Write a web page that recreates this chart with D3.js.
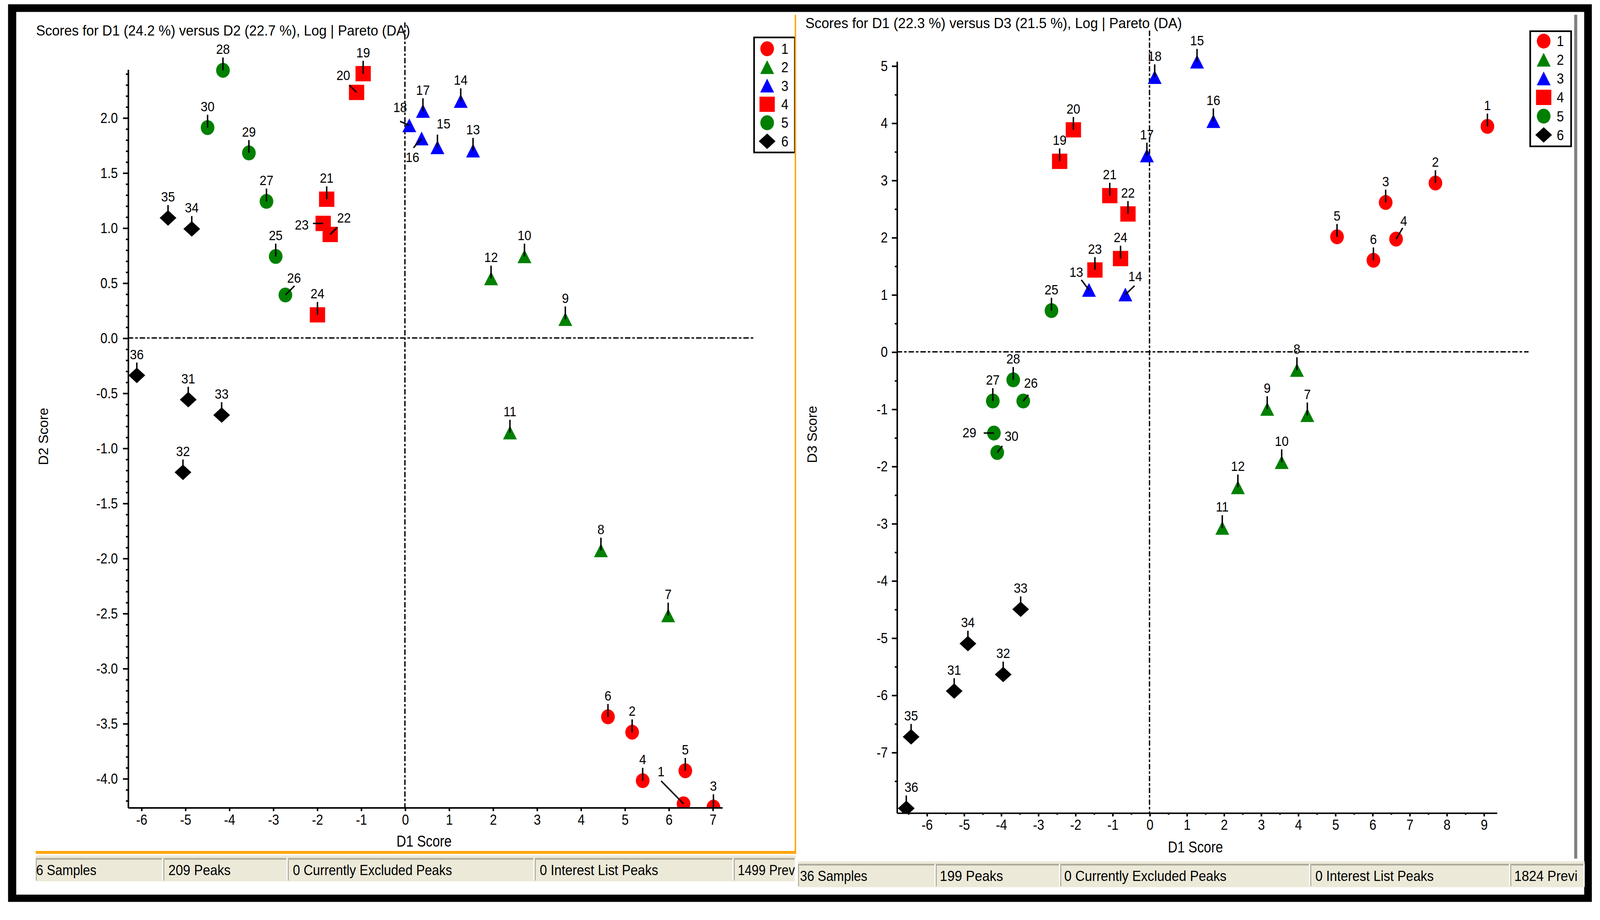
<!DOCTYPE html>
<html>
<head>
<meta charset="UTF-8">
<title>DA score plots</title>
<script src="https://d3js.org/d3.v7.min.js"></script>
<style>
  html, body { margin: 0; padding: 0; overflow: hidden; background: #fff; }
  svg { display: block; }
  text { font-family: "Liberation Sans", Arial, sans-serif; fill: #000; }
  .axis path, .axis line { stroke: #000; stroke-width: 1.5; }
  .axis text { font-size: 14.5px; }
  .zero { stroke: #000; stroke-width: 1.3; stroke-dasharray: 5.3 1.9 2.5 1.9; fill: none; }
  .leader { stroke: #000; stroke-width: 1.4; }
</style>
</head>
<body>
<div id="chart"></div>
<script>
// ---- data ----
const sampleIds = [1, 2, 3, 4, 5, 6, 7, 8, 9, 10, 11, 12, 13, 14, 15, 16, 17, 18,
                   19, 20, 21, 22, 23, 24, 25, 26, 27, 28, 29, 30, 31, 32, 33, 34, 35, 36];
const sampleGroup = [1, 1, 1, 1, 1, 1, 2, 2, 2, 2, 2, 2, 3, 3, 3, 3, 3, 3,
                     4, 4, 4, 4, 4, 4, 5, 5, 5, 5, 5, 5, 6, 6, 6, 6, 6, 6];

const groups = ["1", "2", "3", "4", "5", "6"];
const groupColors = ["#ff0000", "#008000", "#0000ff", "#ff0000", "#008000", "#000000"];
const groupShapes = ["circle", "triangle", "triangle", "square", "circle", "diamond"];

// left plot: D1 vs D2
const leftD1 = [6.34, 5.17, 7.02, 5.41, 6.38, 4.62, 5.99, 4.46, 3.65, 2.72, 2.39, 1.96,
                1.55, 1.27, 0.74, 0.38, 0.41, 0.10, -0.95, -1.10, -1.78, -1.70, -1.86, -1.99,
                -2.94, -2.72, -3.15, -4.14, -3.55, -4.49, -4.93, -5.05, -4.17, -4.85, -5.39, -6.10];
const leftD2 = [-4.23, -3.58, -4.26, -4.02, -3.93, -3.44, -2.52, -1.93, 0.17, 0.74, -0.86, 0.54,
                1.70, 2.15, 1.73, 1.81, 2.06, 1.93, 2.40, 2.23, 1.26, 0.94, 1.04, 0.21,
                0.74, 0.39, 1.24, 2.43, 1.68, 1.91, -0.56, -1.22, -0.70, 0.99, 1.09, -0.34];

// right plot: D1 vs D3
const rightD1 = [9.10, 7.70, 6.36, 6.64, 5.05, 6.03, 4.25, 3.97, 3.17, 3.56, 1.96, 2.38,
                 -1.63, -0.65, 1.28, 1.72, -0.07, 0.14, -2.42, -2.05, -1.07, -0.58, -1.47, -0.78,
                 -2.64, -3.40, -4.22, -3.67, -4.19, -4.10, -5.26, -3.94, -3.47, -4.89, -6.42, -6.55];
const rightD3 = [3.94, 2.95, 2.61, 1.97, 2.01, 1.60, -1.11, -0.32, -1.00, -1.93, -3.08, -2.37,
                 1.08, 1.00, 5.07, 4.03, 3.43, 4.80, 3.33, 3.88, 2.73, 2.41, 1.43, 1.63,
                 0.72, -0.86, -0.86, -0.49, -1.42, -1.76, -5.93, -5.64, -4.50, -5.10, -6.73, -7.98];

const leftXTicks = [-6, -5, -4, -3, -2, -1, 0, 1, 2, 3, 4, 5, 6, 7];
const leftYTicks = [2.0, 1.5, 1.0, 0.5, 0.0, -0.5, -1.0, -1.5, -2.0, -2.5, -3.0, -3.5, -4.0];
const rightXTicks = [-6, -5, -4, -3, -2, -1, 0, 1, 2, 3, 4, 5, 6, 7, 8, 9];
const rightYTicks = [5, 4, 3, 2, 1, 0, -1, -2, -3, -4, -5, -6, -7];

const leftTitle = "Scores for D1 (24.2 %) versus D2 (22.7 %), Log | Pareto (DA)";
const rightTitle = "Scores for D1 (22.3 %) versus D3 (21.5 %), Log | Pareto (DA)";
const xTitle = "D1 Score";
const leftYTitle = "D2 Score";
const rightYTitle = "D3 Score";

const leftStatus = ["36 Samples", "209 Peaks", "0 Currently Excluded Peaks", "0 Interest List Peaks", "1499 Prev"];
const rightStatus = ["36 Samples", "199 Peaks", "0 Currently Excluded Peaks", "0 Interest List Peaks", "1824 Previ"];

// label placement: [labelDx, labelDy(baseline), leaderDx, leaderDy]
const defaultShift = [0, -16, 0, -12.6];
const leftLabelShift = {
    1: [-22, -27, -22, -22.5], 15: [6, -18.5, 0, -12.6], 16: [-9, 23, -8, 9],
    18: [-9, -13, -9, -4], 20: [-13, -12, -7, -7], 22: [13.5, -11.7, 7, -7],
    23: [-21, 6, -10, 0], 26: [8.5, -12, 9, -9]
};
const rightLabelShift = {
    4: [7.5, -13, 6.5, -11], 13: [-12.4, -13, -7.5, -10], 14: [9.7, -13, 9, -8.7],
    26: [7.5, -13, 5, -6], 29: [-24, 4.3, -10, 0], 30: [14, -11.5, 5, -6.5],
    36: [5, -16, 0, -12.6]
};

// ---- drawing ----
const VW = 1568, VH = 890;
const pageW = window.innerWidth;
const svg = d3.select("#chart").append("svg")
    .attr("width", pageW).attr("height", pageW * 2356 / 4152)
    .attr("viewBox", `0 0 ${VW} ${VH}`)
    .attr("preserveAspectRatio", "none");

svg.append("rect").attr("width", VW).attr("height", VH).attr("fill", "#fff");
svg.append("rect").attr("x", 7.9).attr("y", 4.2).attr("width", 1552.1).attr("height", 880.2).attr("fill", "#000");
svg.append("rect").attr("x", 15.9).attr("y", 11.7).attr("width", 1536.6).attr("height", 865.6).attr("fill", "#fff");

function shapePath(shape) {
    if (shape === "circle") return "M-6.7,0A6.7,7.3 0 1,0 6.7,0A6.7,7.3 0 1,0 -6.7,0Z";
    if (shape === "triangle") return "M0,-6.9L6.8,6.6L-6.8,6.6Z";
    if (shape === "square") return "M-7.5,-7.5h15v15h-15Z";
    return "M0,-7.6L8.2,0L0,7.6L-8.2,0Z";
}

// narrow the glyphs horizontally, keeping each text anchored where it was
function squeeze(sel, k) {
    sel.each(function () {
        const t = d3.select(this);
        const x = +t.attr("x") || 0;
        t.attr("transform", `scale(${k},1)`).attr("x", x / k);
    });
}

function drawPanel(p, idx) {
    const g = svg.append("g");
    const x = d3.scaleLinear().domain(p.xDomain).range(p.xRange);
    const y = d3.scaleLinear().domain(p.yDomain).range(p.yRange);

    // title
    g.append("text").attr("x", p.titleX).attr("y", p.titleY)
        .attr("textLength", p.titleW).attr("lengthAdjust", "spacingAndGlyphs")
        .style("font-size", "14px").text(p.title);

    // zero lines
    g.append("line").attr("class", "zero")
        .attr("x1", x(0)).attr("x2", x(0)).attr("y1", p.vTop).attr("y2", p.yRange[0]);
    g.append("line").attr("class", "zero")
        .attr("x1", p.xRange[0]).attr("x2", p.hRight).attr("y1", y(0)).attr("y2", y(0));

    // markers, clipped at the x axis
    const clipId = "clip" + idx;
    svg.append("clipPath").attr("id", clipId).append("rect")
        .attr("x", 0).attr("y", 0).attr("width", VW).attr("height", p.yRange[0]);

    const pts = sampleIds.map((id, i) => ({ id: id, grp: sampleGroup[i] - 1, vx: p.xs[i], vy: p.ys[i] }));

    g.append("g").attr("clip-path", `url(#${clipId})`)
        .selectAll("path").data(pts).join("path")
        .attr("transform", d => `translate(${x(d.vx)},${y(d.vy)})`)
        .attr("d", d => shapePath(groupShapes[d.grp]))
        .attr("fill", d => groupColors[d.grp]);

    const shift = d => p.shifts[d.id] || defaultShift;
    g.append("g").selectAll("line").data(pts).join("line")
        .attr("class", "leader")
        .attr("x1", d => x(d.vx)).attr("y1", d => y(d.vy))
        .attr("x2", d => x(d.vx) + shift(d)[2]).attr("y2", d => y(d.vy) + shift(d)[3]);
    const labels = g.append("g").selectAll("text").data(pts).join("text")
        .attr("x", d => x(d.vx) + shift(d)[0]).attr("y", d => y(d.vy) + shift(d)[1])
        .attr("text-anchor", "middle").style("font-size", "13.5px")
        .text(d => d.id);
    squeeze(labels, 0.9);

    // axes
    g.append("g").attr("class", "axis")
        .attr("transform", `translate(0,${p.yRange[0]})`)
        .call(d3.axisBottom(x).tickValues(p.xTicks).tickSize(3.6).tickPadding(3)
            .tickSizeOuter(0).tickFormat(d => String(d)))
        .call(a => squeeze(a.selectAll("text"), 0.85));
    if (p.xMinor) {
        g.append("g").attr("class", "axis")
            .attr("transform", `translate(0,${p.yRange[0]})`)
            .call(d3.axisBottom(x).tickValues(p.xMinor).tickSize(2).tickFormat(""))
            .call(a => a.select(".domain").remove());
    }
    g.append("g").attr("class", "axis")
        .attr("transform", `translate(${p.xRange[0]},0)`)
        .call(d3.axisLeft(y).tickValues(p.yTicks).tickSize(4.8).tickPadding(p.yPad)
            .tickSizeOuter(0).tickFormat(p.yFmt))
        .call(a => squeeze(a.selectAll("text"), 0.85));
    g.append("g").attr("class", "axis")
        .attr("transform", `translate(${p.xRange[0]},0)`)
        .call(d3.axisLeft(y).tickValues(p.yMinor).tickSize(1.9).tickFormat(""))
        .call(a => a.select(".domain").remove());

    // axis titles
    g.append("text").attr("x", p.xTitleX).attr("y", p.xTitleY)
        .attr("textLength", 54).attr("lengthAdjust", "spacingAndGlyphs")
        .style("font-size", "15.5px").text(xTitle);
    g.append("text")
        .attr("transform", `translate(${p.yTitleX},${p.yTitleY}) rotate(-90)`)
        .attr("text-anchor", "middle").style("font-size", "13.5px").text(p.yTitle);

    // legend
    const lg = g.append("g");
    lg.append("rect").attr("x", p.legend[0]).attr("y", p.legend[1])
        .attr("width", p.legend[2]).attr("height", p.legend[3])
        .attr("fill", "#fff").attr("stroke", "#000").attr("stroke-width", 1.6);
    const rows = lg.selectAll("g").data(groups).join("g")
        .attr("transform", (d, i) => `translate(0,${p.legendY0 + i * p.legendStep})`);
    rows.append("path")
        .attr("transform", `translate(${p.legendMx},0)`)
        .attr("d", (d, i) => shapePath(groupShapes[i]))
        .attr("fill", (d, i) => groupColors[i]);
    rows.append("text").attr("x", p.legendTx).attr("y", 5)
        .style("font-size", "14px").text(d => d)
        .call(s => squeeze(s, 0.9));

    // status bar
    const clipS = "sclip" + idx;
    const c0 = p.cells[0], c1 = p.cells[p.cells.length - 1];
    svg.append("clipPath").attr("id", clipS).append("rect")
        .attr("x", c0).attr("y", 0).attr("width", c1 - c0).attr("height", VH);
    const sb = g.append("g").attr("clip-path", `url(#${clipS})`);
    sb.append("rect").attr("x", c0).attr("y", p.statusY)
        .attr("width", c1 - c0).attr("height", 25.5).attr("fill", "#ece9d8");
    p.status.forEach((t, i) => {
        const a = p.cells[i], b = p.cells[i + 1];
        sb.append("rect").attr("x", a + 1).attr("y", p.statusY + 2.6)
            .attr("width", b - a - 2).attr("height", 1.6).attr("fill", "#aca899");
        sb.append("rect").attr("x", a).attr("y", p.statusY + 2.6)
            .attr("width", 1).attr("height", 22).attr("fill", "#aca899");
        sb.append("rect").attr("x", b - 1.2).attr("y", p.statusY + 2.6)
            .attr("width", 1.2).attr("height", 22).attr("fill", "#ffffff");
        sb.append("text").attr("x", p.textX[i]).attr("y", p.statusY + 19.5)
            .attr("textLength", p.textW[i]).attr("lengthAdjust", "spacingAndGlyphs")
            .style("font-size", "14px").text(t);
    });
}

const minorLeftY = d3.scaleLinear().domain([-4.263, 2.44]).ticks(60);
const minorRightY = d3.scaleLinear().domain([-8.057, 5.08]).ticks(26);
const minorRightX = d3.scaleLinear().domain([-6.807, 9.351]).ticks(32);

drawPanel({
    xs: leftD1, ys: leftD2, shifts: leftLabelShift,
    xDomain: [-6.304, 7.218], xRange: [125.3, 707.7],
    yDomain: [-4.263, 2.44], yRange: [791.8, 67.9],
    xTicks: leftXTicks, yTicks: leftYTicks, yFmt: d => d.toFixed(1), yPad: 5,
    xMinor: null, yMinor: minorLeftY.filter(v => Math.abs(v * 2 - Math.round(v * 2)) > 1e-6),
    title: leftTitle, titleX: 35.4, titleY: 35, titleW: 366.5,
    vTop: 22, hRight: 739,
    xTitleX: 388.6, xTitleY: 830, yTitle: leftYTitle, yTitleX: 47, yTitleY: 428,
    legend: [739, 36.7, 40, 112.8], legendY0: 47.8, legendStep: 18.15, legendMx: 751.8, legendTx: 765.6,
    cells: [35, 160, 282, 524, 719, 780],
    textX: [28.5, 165, 287, 529, 723], textW: [66, 61, 156, 116, 56],
    status: leftStatus, statusY: 838.8
}, 0);

drawPanel({
    xs: rightD1, ys: rightD3, shifts: rightLabelShift,
    xDomain: [-6.807, 9.351], xRange: [878.8, 1466.8],
    yDomain: [-8.057, 5.08], yRange: [797, 60],
    xTicks: rightXTicks, yTicks: rightYTicks, yFmt: d => String(d), yPad: 4,
    xMinor: minorRightX.filter(v => v % 1 !== 0),
    yMinor: minorRightY.filter(v => v % 1 !== 0),
    title: rightTitle, titleX: 789.3, titleY: 27.4, titleW: 369,
    vTop: 30, hRight: 1498,
    xTitleX: 1144.5, xTitleY: 836, yTitle: rightYTitle, yTitleX: 800.5, yTitleY: 426,
    legend: [1499.6, 30.6, 40.1, 112.9], legendY0: 40.3, legendStep: 18.4, legendMx: 1512.8, legendTx: 1525.6,
    cells: [782, 917, 1039, 1284, 1480, 1553],
    textX: [784, 921, 1043, 1289, 1484], textW: [66, 62, 159, 116, 62],
    status: rightStatus, statusY: 844.5
}, 1);

// panel frame lines
svg.append("line").attr("x1", 779.5).attr("x2", 779.5).attr("y1", 14.5).attr("y2", 837.3)
    .attr("stroke", "#ffa500").attr("stroke-width", 1.4);
svg.append("line").attr("x1", 35).attr("x2", 780.2).attr("y1", 835.9).attr("y2", 835.9)
    .attr("stroke", "#ffa500").attr("stroke-width", 2.8);
svg.append("line").attr("x1", 1544.2).attr("x2", 1544.2).attr("y1", 14.5).attr("y2", 842)
    .attr("stroke", "#808080").attr("stroke-width", 3);
</script>
</body>
</html>
